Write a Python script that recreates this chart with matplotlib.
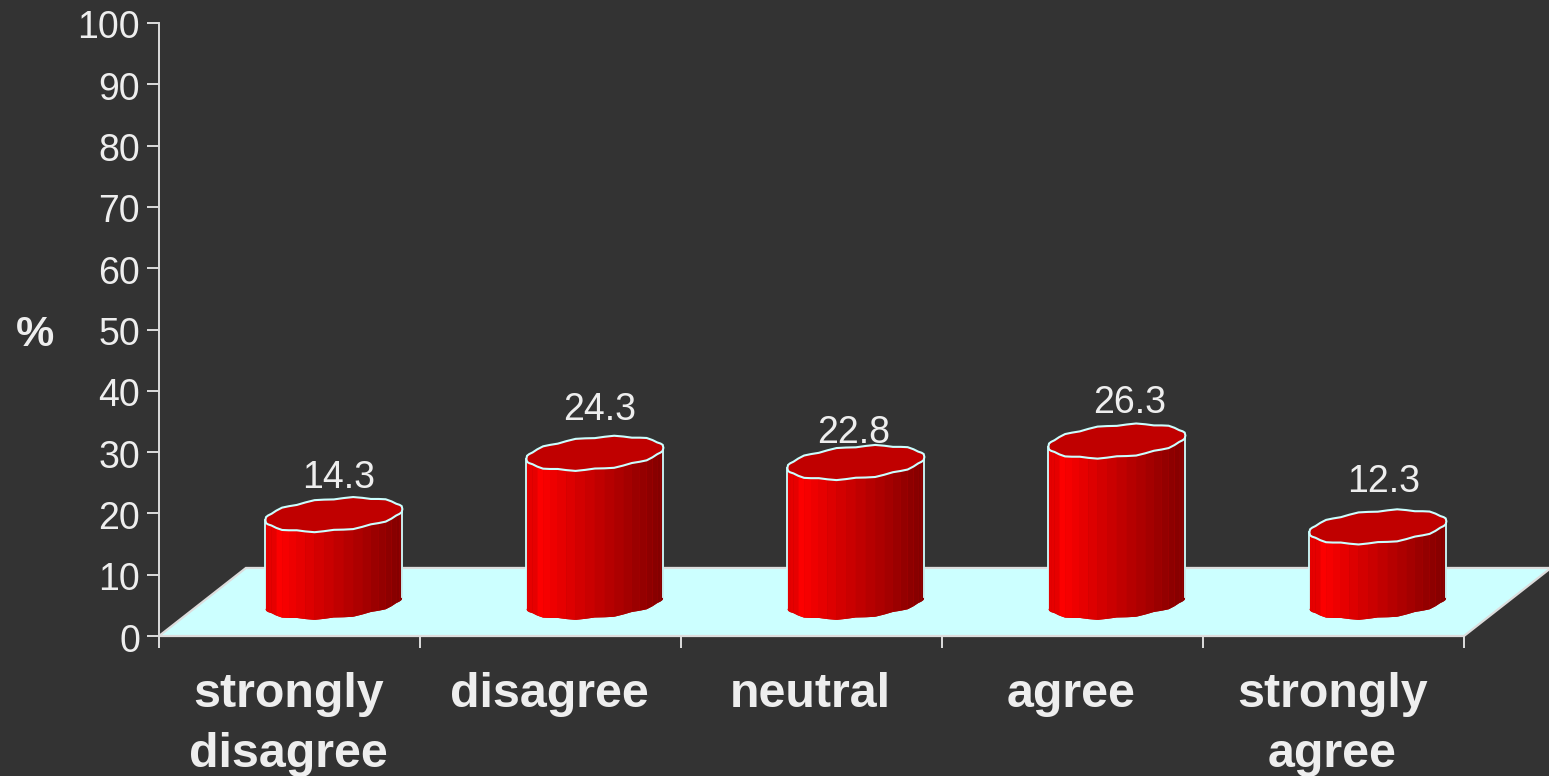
import numpy as np
import matplotlib
matplotlib.use('Agg')
import matplotlib.pyplot as plt
from matplotlib.transforms import ScaledTranslation

plt.rcParams['font.family'] = ['Liberation Sans', 'DejaVu Sans']

categories = ['strongly\ndisagree', 'disagree', 'neutral', 'agree', 'strongly\nagree']
values = [14.3, 24.3, 22.8, 26.3, 12.3]
y_ticks = list(range(0, 101, 10))

# label nudges in pixels, the original placed them by hand
label_dx = [5, 5, -2, 13, 6]
label_dy = [37, 43, 30, 38, 45]

bg_color = '#333333'
text_color = '#EEEEEE'
axis_color = '#DDDDDD'
floor_color = '#CCFFFF'

# fake 3d depth of the floor, in axis units
depth_x = 0.333
depth_y = 11.1

# cylinder shape, in axis units
cyl_shift = 0.170
cyl_rx = 0.2625
cyl_ry = 2.6
cyl_skew = 0.9
cyl_base = 5.5
n_facets = 22

fig = plt.figure(figsize=(15.49, 7.76), dpi=100, facecolor=bg_color)
ax = fig.add_axes([159 / 1549, 140 / 776, 1305 / 1549, 613 / 776], facecolor=bg_color)
ax.set_xlim(0, 5)
ax.set_ylim(0, 100)

for s in ['top', 'right']:
    ax.spines[s].set_visible(False)
for s in ['left', 'bottom']:
    ax.spines[s].set_color(axis_color)
    ax.spines[s].set_linewidth(1.4)

ax.set_yticks(y_ticks)
ax.tick_params(axis='y', length=8.6, width=1.4, color=axis_color, labelcolor=text_color,
               labelsize=27, pad=5)
ax.set_xticks(range(6))
ax.set_xticklabels([])
ax.tick_params(axis='x', which='major', length=8.6, width=1.4, color=axis_color)
ax.set_xticks(np.arange(len(categories)) + 0.5, minor=True)
ax.set_xticklabels(categories, minor=True, fontsize=34.8, fontweight='bold', color=text_color,
                   linespacing=1.43)
ax.tick_params(axis='x', which='minor', length=0, pad=26)

# tick labels sit a touch off the ticks in the source
down = ScaledTranslation(0, -1.5 / 100, fig.dpi_scale_trans)
for lab in ax.get_yticklabels():
    lab.set_transform(lab.get_transform() + down)
left = ScaledTranslation(-1 / 100, 0, fig.dpi_scale_trans)
for lab in ax.get_xticklabels(minor=True):
    lab.set_transform(lab.get_transform() + left)

ax.set_ylabel('%', rotation=0, fontsize=31, fontweight='bold', color=text_color)
ax.yaxis.set_label_coords(-0.095, 0.459)

# floor
floor_x = [0, 5, 5 + depth_x, depth_x]
floor_y = [0, 0, depth_y, depth_y]
ax.fill(floor_x, floor_y, facecolor=floor_color, edgecolor=axis_color, linewidth=1.6,
        clip_on=False, zorder=1)


def ring(t, center_x, center_y):
    # faceted ellipse, the source chart was drawn from a coarse polygon
    x = center_x + cyl_rx * np.cos(t)
    y = center_y + cyl_ry * np.sin(t) + cyl_skew * np.cos(t) + 0.12 * np.sin(11 * t)
    return x, y


def side_color(frac):
    if frac < 0.08:
        return (0.9, 0, 0)
    level = 1.0 - 0.5 * (frac - 0.08) / 0.92
    return (level, 0, 0)


for i, v in enumerate(values):
    cx = i + 0.5 + cyl_shift
    top = cyl_base + v

    t = np.linspace(np.pi, 2 * np.pi, n_facets + 1)
    x_low, y_low = ring(t, cx, cyl_base)
    x_top, y_top = ring(t, cx, top)

    # solid body underneath so the strip seams stay faint
    ax.fill(np.concatenate([x_low, x_top[::-1]]), np.concatenate([y_low, y_top[::-1]]),
            facecolor='#C00000', edgecolor='none', zorder=1.8)
    for k in range(n_facets):
        frac = (0.5 * (x_low[k] + x_low[k + 1]) - (cx - cyl_rx)) / (2 * cyl_rx)
        c = side_color(frac)
        ax.fill([x_low[k], x_low[k + 1], x_top[k + 1], x_top[k]],
                [y_low[k], y_low[k + 1], y_top[k + 1], y_top[k]],
                facecolor=c, edgecolor='none', zorder=2)

    t = np.linspace(0, 2 * np.pi, 2 * n_facets + 1)
    x_ring, y_ring = ring(t, cx, top)
    ax.fill(x_ring, y_ring, facecolor='#C00000', edgecolor=floor_color, linewidth=1.5, zorder=3)

    # side outlines
    ax.plot([cx - cyl_rx, cx - cyl_rx], [cyl_base - cyl_skew, top - cyl_skew], color=floor_color,
            linewidth=1.3, zorder=2.5)
    ax.plot([cx + cyl_rx, cx + cyl_rx], [cyl_base + cyl_skew, top + cyl_skew], color=floor_color,
            linewidth=1.3, zorder=2.5)

    ax.annotate('%.1f' % v, (cx, top), xytext=(label_dx[i], label_dy[i]),
                textcoords='offset pixels', ha='center', va='center', fontsize=27,
                color=text_color, zorder=4)

fig.savefig('out.png', dpi=100, facecolor=bg_color)
